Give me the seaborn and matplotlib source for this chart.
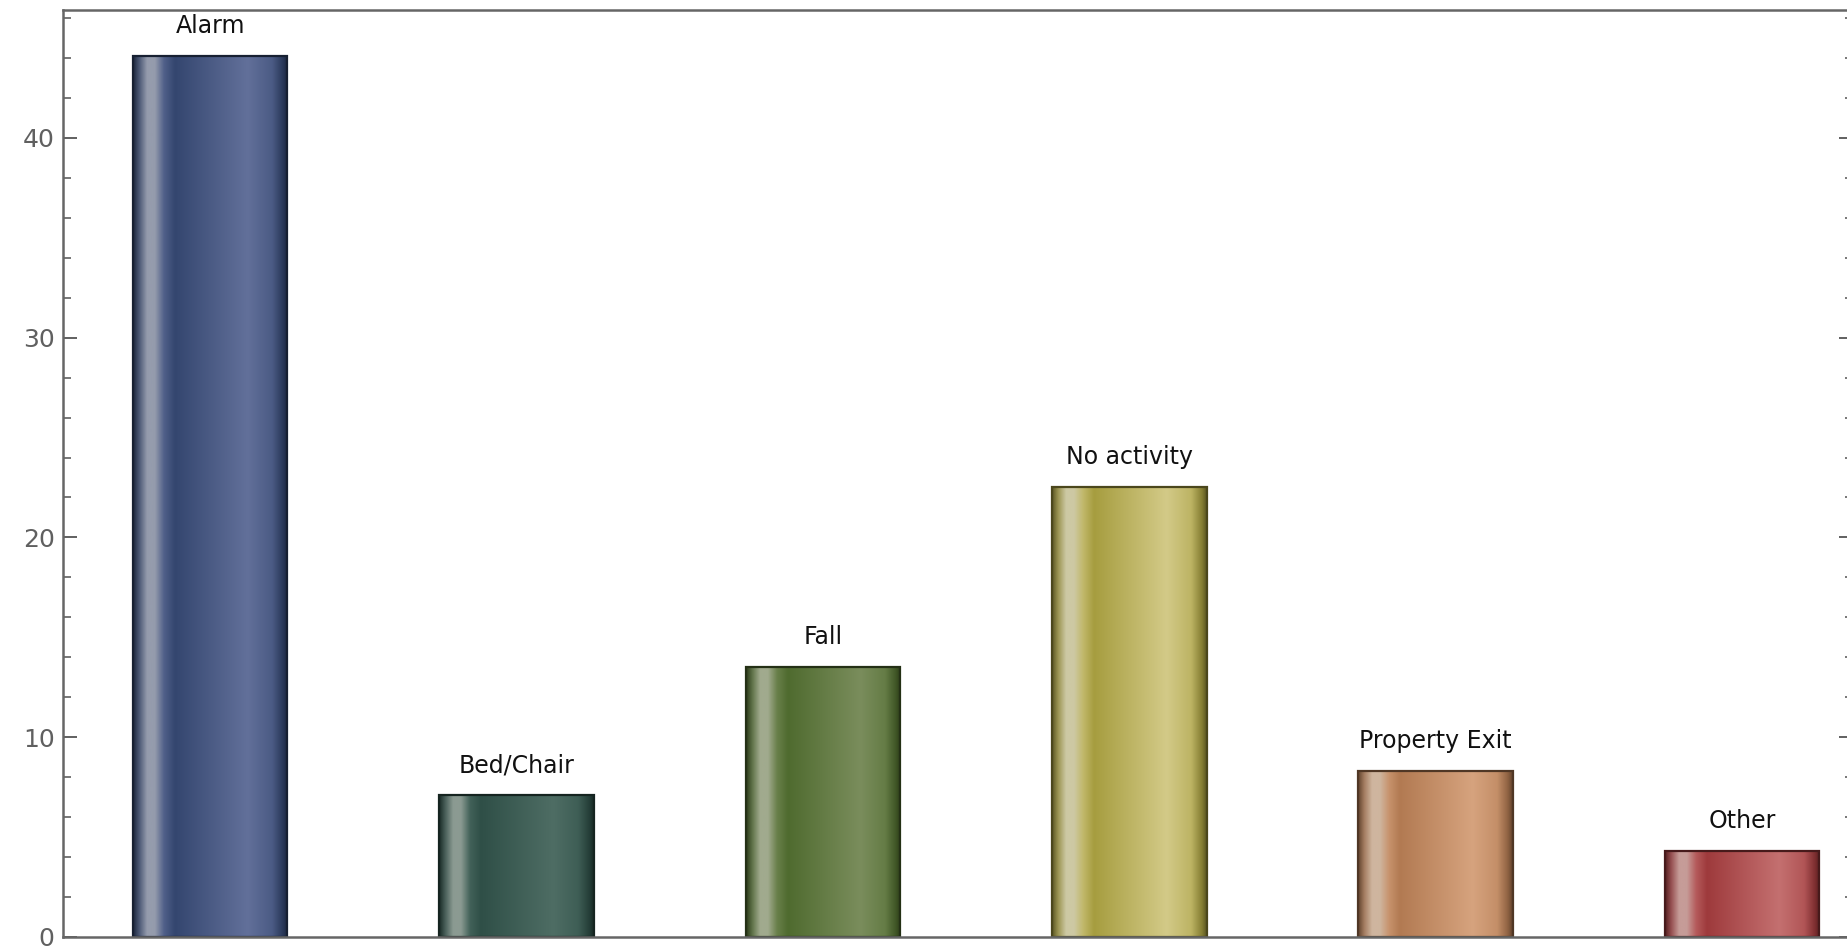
import numpy as np
import pandas as pd
import matplotlib
matplotlib.use("Agg")
import matplotlib.pyplot as plt
from matplotlib.colors import LinearSegmentedColormap, to_rgb
from matplotlib.ticker import MultipleLocator
import seaborn as sns

# Share of events by type (%)
categories = ["Alarm", "Bed/Chair", "Fall", "No activity", "Property Exit", "Other"]
values = [44.1, 7.1, 13.5, 22.5, 8.3, 4.3]
base_colors = ["#34466f", "#2f4f47", "#4f6b2f", "#a69d3f", "#b27a52", "#9e3a3c"]
light_colors = ["#62709a", "#4e6d64", "#7a8d5c", "#d3ca88", "#d6a37e", "#c47070"]

sns.set_theme(style="white")
plt.rcParams["font.family"] = ["DejaVu Sans"]

df = pd.DataFrame({"category": categories, "value": values})

fig = plt.figure(figsize=(18.47, 9.51), dpi=100)
W, H = 1847, 951
ax = fig.add_axes([63 / W, (H - 937) / H, (W + 6 - 63) / W, (937 - 10) / H])

sns.barplot(data=df, x="category", y="value", hue="category",
            palette=base_colors, width=0.505, legend=False, ax=ax,
            edgecolor="none", linewidth=0, saturation=1)


def mix(c, other, t):
    a, b = np.array(to_rgb(c)), np.array(to_rgb(other))
    return tuple(a * (1 - t) + b * t)


# cylinder-like horizontal shading inside each bar
for patch, base, light in zip(ax.patches, base_colors, light_colors):
    dark_edge = mix(base, "black", 0.45)
    stripe = mix(light, "#c8c8c0", 0.5)
    cmap = LinearSegmentedColormap.from_list("shade", [
        (0.00, dark_edge),
        (0.04, mix(base, "#888888", 0.3)),
        (0.09, stripe),
        (0.14, stripe),
        (0.20, mix(light, base, 0.4)),
        (0.27, base),
        (0.48, mix(base, light, 0.45)),
        (0.74, light),
        (0.90, mix(base, light, 0.5)),
        (0.97, mix(base, "black", 0.2)),
        (1.00, dark_edge),
    ])
    x0, y0 = patch.get_x(), patch.get_y()
    w, h = patch.get_width(), patch.get_height()
    grad = np.linspace(0, 1, 256).reshape(1, -1)
    im = ax.imshow(grad, cmap=cmap, aspect="auto", extent=(x0, x0 + w, y0, y0 + h),
                   zorder=patch.get_zorder() + 0.1, interpolation="bicubic")
    im.set_clip_path(patch)
    ax.add_patch(plt.Rectangle((x0, y0), w, h, fill=False,
                               edgecolor=mix(base, "black", 0.55), linewidth=1.6,
                               zorder=patch.get_zorder() + 0.2))

# category names above bars
for patch, name in zip(ax.patches[:len(categories)], categories):
    ax.annotate(name, (patch.get_x() + patch.get_width() / 2, patch.get_height()),
                xytext=(0, 13), textcoords="offset points", ha="center", va="bottom",
                fontsize=17, color="#111111")

ax.set_xlim(-0.48, 5.362)
ax.set_ylim(0, 46.4)
ax.set_xlabel("")
ax.set_ylabel("")
ax.set_xticks([])
ax.yaxis.set_major_locator(MultipleLocator(10))
ax.yaxis.set_minor_locator(MultipleLocator(2))
ax.tick_params(axis="y", which="both", direction="in", left=True, right=True,
               colors="#606060", labelsize=18, pad=6)
ax.tick_params(axis="y", which="major", length=10, width=1.4)
ax.tick_params(axis="y", which="minor", length=6, width=1.2)
for side in ["left", "bottom", "top", "right"]:
    ax.spines[side].set_visible(True)
    ax.spines[side].set_color("#666666")
    ax.spines[side].set_linewidth(1.8)
ax.set_facecolor("white")
fig.patch.set_facecolor("white")

fig.savefig("out.png", dpi=100)
